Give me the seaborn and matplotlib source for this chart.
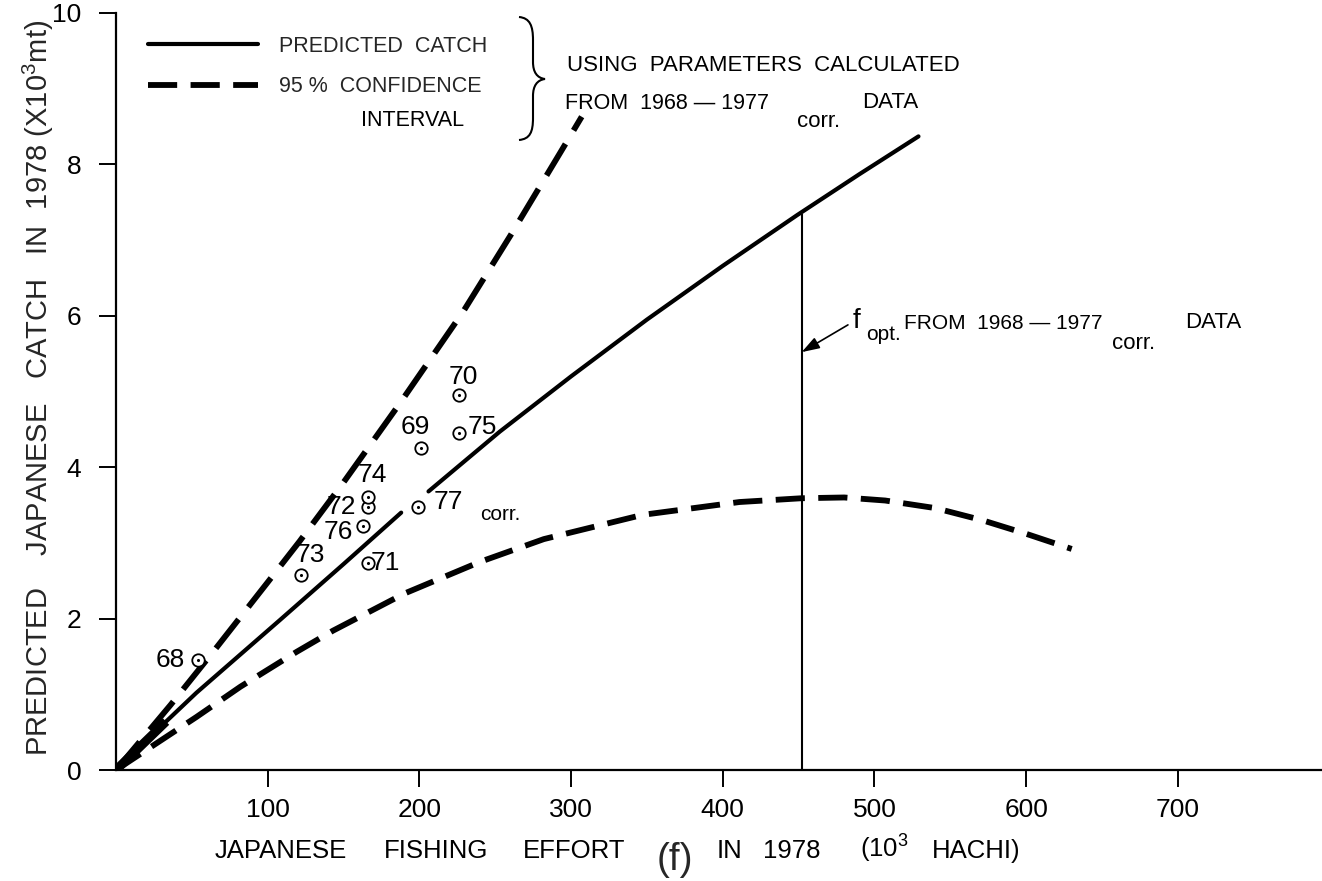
import matplotlib
matplotlib.use("Agg")
import numpy as np
import pandas as pd
import matplotlib.pyplot as plt
import seaborn as sns
from matplotlib.path import Path
from matplotlib.patches import PathPatch

# ---------------- data ----------------
years = ["68", "69", "70", "71", "72", "73", "74", "75", "76", "77"]
effort = [54, 201, 226, 166, 166, 122, 166, 226, 163, 199]
catch = [1.45, 4.25, 4.95, 2.73, 3.48, 2.58, 3.61, 4.45, 3.22, 3.48]

# predicted catch (solid) - drawn in two pieces as in the original
pred_lo_x = [0, 33, 53, 108, 150, 188]
pred_lo_y = [0, 0.64, 1.02, 1.98, 2.72, 3.40]
pred_hi_x = [206, 253, 300, 350, 400, 449, 490, 529]
pred_hi_y = [3.68, 4.47, 5.20, 5.95, 6.66, 7.33, 7.87, 8.37]

# 95% confidence interval (dashed)
ci_hi_x = [0, 36, 64, 100, 121, 150, 187, 229, 260, 293, 307]
ci_hi_y = [0, 0.86, 1.56, 2.48, 3.02, 3.80, 4.84, 6.06, 7.06, 8.16, 8.63]
ci_lo_x = [0, 28, 53, 82, 119, 143, 190, 240, 282, 347, 411, 452, 480, 507,
           540, 571, 600, 630]
ci_lo_y = [0, 0.37, 0.70, 1.10, 1.56, 1.84, 2.33, 2.75, 3.05, 3.37, 3.54, 3.59,
           3.60, 3.56, 3.46, 3.30, 3.12, 2.92]

f_opt = 452
f_opt_catch = 7.35

x_ticks = [100, 200, 300, 400, 500, 600, 700]
y_ticks = [0, 2, 4, 6, 8, 10]

# label placement (pixel offsets from each point)
label_offsets = {"68": (-28, 0), "73": (9, 20), "71": (17, 0), "76": (-25, -6),
                 "72": (-26, 0), "74": (4, 22), "77": (30, 5), "69": (-6, 21),
                 "75": (23, 6), "70": (4, 18)}

# ---------------- style ----------------
sns.set_theme(style="ticks")
plt.rcParams["font.family"] = ["Liberation Sans", "DejaVu Sans"]
plt.rcParams["mathtext.fontset"] = "custom"
plt.rcParams["mathtext.rm"] = "Liberation Sans"
plt.rcParams["mathtext.it"] = "Liberation Sans:italic"
plt.rcParams["mathtext.bf"] = "Liberation Sans:bold"

W, H = 1322, 881
fig = plt.figure(figsize=(W / 100, H / 100), dpi=100)
fig.patch.set_facecolor("white")
ax = fig.add_axes([116 / W, 111 / H, 1206 / W, 757 / H])
ax.set_facecolor("white")


def P(x, y):
    return (x / W, 1 - y / H)


def put(s, x, y, size, **kw):
    kw.setdefault("ha", "left")
    kw.setdefault("va", "baseline")
    return fig.text(x / W, 1 - y / H, s, fontsize=size, color="black", **kw)


pts = pd.DataFrame({"year": years, "effort": effort, "catch": catch})
dash_lo = (0, (5, 2.3))
dash_hi = (0, (6.3, 2.7))

sns.lineplot(x=pred_lo_x, y=pred_lo_y, ax=ax, color="black", lw=3.0,
             sort=False, estimator=None)
sns.lineplot(x=pred_lo_x[:2], y=pred_lo_y[:2], ax=ax, color="black", lw=6.5,
             sort=False, estimator=None, solid_capstyle="butt")
sns.lineplot(x=pred_hi_x, y=pred_hi_y, ax=ax, color="black", lw=3.0,
             sort=False, estimator=None)
sns.lineplot(x=ci_hi_x, y=ci_hi_y, ax=ax, color="black", lw=4.2,
             sort=False, estimator=None, linestyle=dash_hi)
sns.lineplot(x=ci_lo_x, y=ci_lo_y, ax=ax, color="black", lw=4.2,
             sort=False, estimator=None, linestyle=dash_lo)
solid_line = ax.lines[0]
dashed_line = ax.lines[4]

# f_opt vertical line
ax.vlines(f_opt, 0, f_opt_catch, color="black", lw=1.5)

# observed points
sns.scatterplot(data=pts, x="effort", y="catch", ax=ax, marker="o", s=80,
                facecolor="white", edgecolor="black", linewidth=1.3, zorder=5)
sns.scatterplot(data=pts, x="effort", y="catch", ax=ax, marker="o", s=5,
                color="black", edgecolor="black", linewidth=0, zorder=6)

for yr, xv, yv in zip(years, effort, catch):
    dx, dy = label_offsets[yr]
    ax.annotate(yr, (xv, yv), xytext=(dx * 0.72, dy * 0.72),
                textcoords="offset points", ha="center", va="center",
                fontsize=19, color="black")
ax.annotate("corr.", (effort[-1], catch[-1]), xytext=(82 * 0.72, -8 * 0.72),
            textcoords="offset points", ha="center", va="center",
            fontsize=15, color="black")

# axes
ax.set_xlim(0, 795)
ax.set_ylim(0, 10)
ax.set_xticks(x_ticks)
ax.set_yticks(y_ticks)
ax.set_xticklabels([str(t) for t in x_ticks])
ax.set_yticklabels([str(t) for t in y_ticks])
sns.despine(ax=ax)
for s in ("left", "bottom"):
    ax.spines[s].set_linewidth(1.6)
    ax.spines[s].set_color("black")
ax.tick_params(axis="both", direction="out", length=12, width=1.4,
               labelsize=19, colors="black")
ax.tick_params(axis="y", pad=13)
ax.tick_params(axis="x", pad=8)
ax.set_xlabel("")
ax.set_ylabel("")

# axis titles
fig.text(*P(38, 388), "PREDICTED    JAPANESE   CATCH   IN  1978 (X10$^{3}$mt)",
         rotation=90, ha="center", va="center", fontsize=21)
put("JAPANESE", 215, 858, 18.5)
put("FISHING", 384, 858, 18.5)
put("EFFORT", 523, 858, 18.5)
fig.text(*P(675, 860), "(f)", ha="center", va="center", fontsize=28)
put("IN", 717, 858, 18.5)
put("1978", 763, 858, 18.5)
put("(10$^{3}$", 860, 858, 18.5)
put("HACHI)", 932, 858, 18.5)

# legend
leg = ax.legend(handles=[solid_line, dashed_line],
                labels=["PREDICTED  CATCH", "95 %  CONFIDENCE"],
                loc="upper left", bbox_to_anchor=P(148, 36),
                bbox_transform=fig.transFigure, frameon=False, fontsize=15.5,
                handlelength=5.1, handletextpad=1.0, labelspacing=0.9,
                borderpad=0, borderaxespad=0)
for h in leg.legend_handles:
    h.set_color("black")
put("INTERVAL", 361, 126, 15.5)

# brace
verts = [(519, 17), (530, 18), (533, 26), (533, 40), (533, 62),
         (533, 72), (537, 78), (545, 79),
         (537, 80), (533, 86), (533, 96), (533, 118),
         (533, 132), (530, 139), (519, 140)]
codes = [Path.MOVETO, Path.CURVE4, Path.CURVE4, Path.CURVE4, Path.LINETO,
         Path.CURVE4, Path.CURVE4, Path.CURVE4,
         Path.CURVE4, Path.CURVE4, Path.CURVE4, Path.LINETO,
         Path.CURVE4, Path.CURVE4, Path.CURVE4]
brace = PathPatch(Path([P(*v) for v in verts], codes), transform=fig.transFigure,
                  fill=False, lw=1.5, edgecolor="black")
fig.add_artist(brace)

put("USING  PARAMETERS  CALCULATED", 567, 71, 16)
put("FROM  1968 — 1977", 565, 109, 15.5)
put("corr.", 797, 127, 16)
put("DATA", 862, 108, 16)

# f_opt annotation
ax.annotate("", xy=(f_opt, 5.52), xytext=(482.5, 5.88),
            arrowprops=dict(arrowstyle="-|>,head_length=0.9,head_width=0.3",
                            color="black", lw=1.2, shrinkA=0, shrinkB=0))
put("f", 853, 328, 20)
put("opt.", 866, 340, 15)
put("FROM  1968 — 1977", 904, 329, 15)
put("corr.", 1112, 349, 16)
put("DATA", 1185, 328, 16)

fig.savefig("out.png", dpi=100, facecolor="white")
